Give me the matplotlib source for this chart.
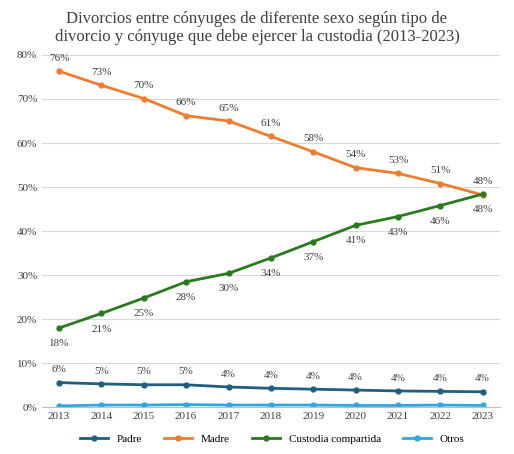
import matplotlib
matplotlib.use("Agg")
import matplotlib.pyplot as plt
from matplotlib.ticker import PercentFormatter

years = [2013,2014,2015,2016,2017,2018,2019,2020,2021,2022,2023]
padre = [5.6,5.3,5.1,5.1,4.6,4.3,4.1,3.9,3.7,3.6,3.5]
madre = [76.3,73.1,70.1,66.2,65.0,61.5,58.0,54.4,53.1,50.8,48.2]
custodia = [18.0,21.3,24.8,28.5,30.4,33.9,37.6,41.3,43.3,45.8,48.4]
otros = [0.3,0.5,0.5,0.6,0.5,0.5,0.5,0.4,0.4,0.5,0.4]
padre_lbl = [6,5,5,5,4,4,4,4,4,4,4]
madre_lbl = [76,73,70,66,65,61,58,54,53,51,48]
cust_lbl = [18,21,25,28,30,34,37,41,43,46,48]

plt.rcParams['font.family'] = ['Liberation Serif', 'DejaVu Serif']
fig = plt.figure(figsize=(5.14,4.54), dpi=100)
ax = fig.add_axes([0.082, 0.103, 0.89, 0.776])

cP, cM, cC, cO = '#1f5f7f', '#ed7d31', '#2a7a1e', '#2ea8df'
ax.plot(years, padre, color=cP, lw=2, marker='o', ms=3.5, label='Padre')
ax.plot(years, madre, color=cM, lw=2, marker='o', ms=3.5, label='Madre')
ax.plot(years, custodia, color=cC, lw=2, marker='o', ms=3.5, label='Custodia compartida')
ax.plot(years, otros, color=cO, lw=2, marker='o', ms=3.5, label='Otros')

n = len(years)
for i, y in enumerate(years):
    ax.annotate(f"{padre_lbl[i]}%", (y, padre[i]), xytext=(0,6), textcoords='offset points', ha='center', va='bottom', fontsize=8, color='#404040')
    last = i == n-1
    ax.annotate(f"{madre_lbl[i]}%", (y, madre[i]), xytext=(0,-7 if last else 6), textcoords='offset points', ha='center', va='top' if last else 'bottom', fontsize=8, color='#404040')
    ax.annotate(f"{cust_lbl[i]}%", (y, custodia[i]), xytext=(0,6 if last else -8), textcoords='offset points', ha='center', va='bottom' if last else 'top', fontsize=8, color='#404040')

ax.set_ylim(0, 80)
ax.set_yticks(range(0, 81, 10))
ax.yaxis.set_major_formatter(PercentFormatter(decimals=0))
ax.set_xlim(2012.6, 2023.4)
ax.set_xticks(years)
ax.grid(axis='y', color='#d9d9d9', lw=0.8)
ax.set_axisbelow(True)
for s in ['top','right','left']:
    ax.spines[s].set_visible(False)
ax.spines['bottom'].set_color('#bfbfbf')
ax.tick_params(length=0, labelsize=8, colors='#404040')
fig.suptitle("Divorcios entre cónyuges de diferente sexo según tipo de\ndivorcio y cónyuge que debe ejercer la custodia (2013-2023)",
             y=0.975, fontsize=12, color='#404040', linespacing=1.1)
fig.legend(loc='lower center', ncol=4, frameon=False, fontsize=8, bbox_to_anchor=(0.53, 0.0), handlelength=2.5)
fig.savefig('out.png', dpi=100)
